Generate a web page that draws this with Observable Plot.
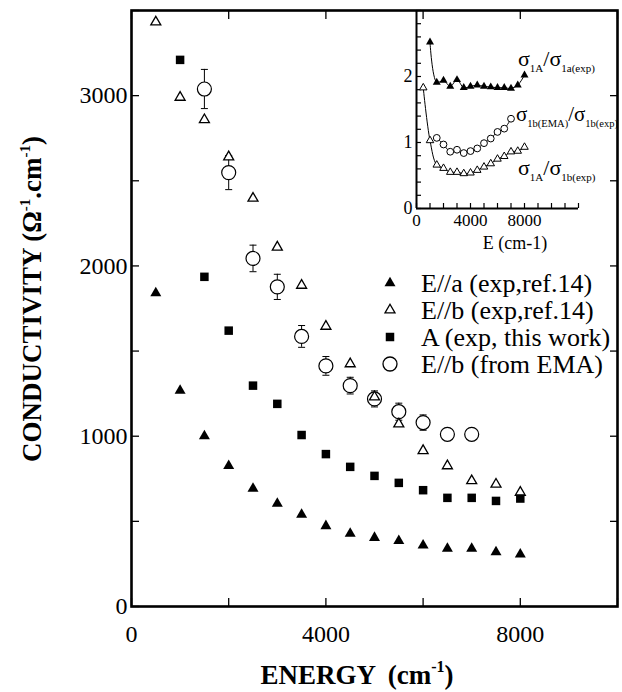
<!DOCTYPE html>
<html>
<head>
<meta charset="utf-8">
<script src="https://cdn.jsdelivr.net/npm/d3@7"></script>
<script src="https://cdn.jsdelivr.net/npm/@observablehq/plot@0.6"></script>
<style>
  body { margin: 0; background: #fff; }
  #wrap { position: relative; width: 622px; height: 692px; background: #fff; }
  #wrap > svg { position: absolute; }
</style>
</head>
<body>
<div id="wrap"></div>
<script>
// ---------- Main chart data ----------
const energyEa = [500, 1000, 1500, 2000, 2500, 3000, 3500, 4000, 4500, 5000, 5500, 6000, 6500, 7000, 7500, 8000];
const sigmaEa  = [1840, 1268, 1001, 826, 693, 605, 540, 473, 428, 404, 385, 359, 340, 340, 320, 306];

const energyEb = [500, 1000, 1500, 2000, 2500, 3000, 3500, 4000, 4500, 5000, 5500, 6000, 6500, 7000, 7500, 8000];
const sigmaEb  = [3432, 2990, 2858, 2640, 2397, 2110, 1886, 1645, 1425, 1230, 1072, 915, 826, 738, 718, 670];

const energyA = [1000, 1500, 2000, 2500, 3000, 3500, 4000, 4500, 5000, 5500, 6000, 6500, 7000, 7500, 8000];
const sigmaA  = [3210, 1936, 1620, 1297, 1190, 1007, 895, 820, 767, 726, 683, 638, 638, 620, 634];

const energyEMA = [1500, 2000, 2500, 3000, 3500, 4000, 4500, 5000, 5500, 6000, 6500, 7000];
const sigmaEMA  = [3039, 2548, 2044, 1877, 1586, 1413, 1297, 1219, 1144, 1080, 1011, 1011];
const errEMA    = [115, 100, 78, 74, 64, 55, 49, 47, 50, 45, 0, 0];

const legendLabels = ["E//a (exp,ref.14)", "E//b (exp,ref.14)", "A (exp, this work)", "E//b (from EMA)"];

const xTickLabels = [0, 4000, 8000];
const xTickMarks  = [0, 2000, 4000, 6000, 8000, 10000];
const yTickLabels = [0, 1000, 2000, 3000];
const yTickMarks  = [0, 500, 1000, 1500, 2000, 2500, 3000, 3500];

// ---------- Inset data ----------
const insetEnergyAa = [1000, 1500, 2000, 2500, 3000, 3500, 4000, 4500, 5000, 5500, 6000, 6500, 7000, 7500, 8000];
const ratioAa       = [2.52, 1.91, 1.94, 1.85, 1.95, 1.83, 1.85, 1.87, 1.85, 1.84, 1.83, 1.83, 1.82, 1.87, 2.02];

const insetEnergyEMA = [1500, 2000, 2500, 3000, 3500, 4000, 4500, 5000, 5500, 6000, 6500, 7000];
const ratioEMA       = [1.07, 0.97, 0.86, 0.89, 0.84, 0.87, 0.91, 0.99, 1.06, 1.16, 1.21, 1.36];

const insetEnergyAb = [500, 1000, 1500, 2000, 2500, 3000, 3500, 4000, 4500, 5000, 5500, 6000, 6500, 7000, 7500, 8000];
const ratioAb       = [1.83, 1.03, 0.66, 0.61, 0.55, 0.55, 0.53, 0.54, 0.58, 0.63, 0.68, 0.75, 0.79, 0.86, 0.87, 0.93];

const insetXTickLabels = [0, 4000, 8000];
const insetXTickMarks  = [0, 1000, 2000, 3000, 4000, 5000, 6000, 7000, 8000, 9000, 10000, 11000, 12000];
const insetYTickLabels = [0, 1, 2];
const insetYTickMarks  = d3.range(16).map(i => i / 5);

// ---------- helpers ----------
const zip = (xs, ys, extra) => xs.map((x, i) => ({x, y: ys[i], e: extra ? extra[i] : 0}));
const dEa = zip(energyEa, sigmaEa);
const dEb = zip(energyEb, sigmaEb);
const dA = zip(energyA, sigmaA);
const dEMA = zip(energyEMA, sigmaEMA, errEMA);
const dEMAerr = dEMA.filter(d => d.e > 0);

const iAa = zip(insetEnergyAa, ratioAa);
const iEMA = zip(insetEnergyEMA, ratioEMA);
const iAb = zip(insetEnergyAb, ratioAb);

const capSymbol = { draw(ctx) { ctx.moveTo(-3.5, 0); ctx.lineTo(3.5, 0); } };
const rTri = side => Math.sqrt((Math.sqrt(3) / 4) * side * side / Math.PI);
const rSq = side => Math.sqrt(side * side / Math.PI);

const FONT = "Liberation Serif, Times New Roman, serif";

// ---------- Main plot ----------
const main = Plot.plot({
  width: 622, height: 692,
  marginLeft: 131, marginRight: 5, marginTop: 10, marginBottom: 86,
  style: { fontFamily: FONT, fontSize: "24px", color: "#000", background: "transparent", overflow: "visible" },
  x: { domain: [0, 10000], label: null },
  y: { domain: [0, 3500], label: null },
  marks: [
    Plot.axisX({ anchor: "bottom", ticks: xTickMarks, tickSize: -8, tickPadding: 26,
      tickFormat: d => xTickLabels.includes(d) ? String(d) : "", fontSize: 24, strokeWidth: 1.3 }),
    Plot.axisX({ anchor: "top", ticks: xTickMarks, tickSize: -8, tickFormat: () => "", strokeWidth: 1.3 }),
    Plot.axisY({ anchor: "left", ticks: yTickMarks, tickSize: -8, tickPadding: 12,
      tickFormat: d => yTickLabels.includes(d) ? String(d) : "", fontSize: 24, strokeWidth: 1.3 }),
    Plot.axisY({ anchor: "right", ticks: yTickMarks, tickSize: -8, tickFormat: () => "", strokeWidth: 1.3 }),
    Plot.frame({ stroke: "black", strokeWidth: 2.6 }),
    Plot.ruleX(dEMAerr, { x: "x", y1: d => d.y - d.e, y2: d => d.y + d.e, stroke: "black", strokeWidth: 1 }),
    Plot.dot(dEMAerr, { x: "x", y: d => d.y + d.e, symbol: capSymbol, stroke: "black", strokeWidth: 1 }),
    Plot.dot(dEMAerr, { x: "x", y: d => d.y - d.e, symbol: capSymbol, stroke: "black", strokeWidth: 1 }),
    Plot.dot(dEMA, { x: "x", y: "y", symbol: "circle", r: 7, fill: "white", stroke: "black", strokeWidth: 1.2 }),
    Plot.dot(dEb, { x: "x", y: "y", symbol: "triangle", r: rTri(10), fill: "white", stroke: "black", strokeWidth: 1.3 }),
    Plot.dot(dA, { x: "x", y: "y", symbol: "square", r: rSq(8.5), fill: "black", stroke: "none" }),
    Plot.dot(dEa, { x: "x", y: "y", symbol: "triangle", r: rTri(11), fill: "black", stroke: "none" })
  ]
});
main.style.left = "0px";
main.style.top = "0px";
document.getElementById("wrap").appendChild(main);

const msvg = d3.select(main);
// Legend
const legendSymbols = [
  { type: d3.symbolTriangle, size: (Math.sqrt(3) / 4) * 11 * 11, fill: "black", stroke: "none" },
  { type: d3.symbolTriangle, size: (Math.sqrt(3) / 4) * 10 * 10, fill: "white", stroke: "black" },
  { type: d3.symbolSquare, size: 8.5 * 8.5, fill: "black", stroke: "none" },
  { type: d3.symbolCircle, size: Math.PI * 49, fill: "white", stroke: "black" }
];
const lg = msvg.append("g").attr("font-family", FONT).attr("font-size", 26)
  .attr("fill", "black").attr("text-anchor", "start");
legendLabels.forEach((label, i) => {
  const y = 283 + i * 27;
  const s = legendSymbols[i];
  lg.append("path")
    .attr("d", d3.symbol(s.type, s.size)())
    .attr("transform", `translate(390,${y})`)
    .attr("fill", s.fill).attr("stroke", s.stroke).attr("stroke-width", 1.3);
  lg.append("text").attr("x", 421).attr("y", y).attr("dy", "0.35em").text(label);
});

// Y axis title
const yt = msvg.append("text")
  .attr("transform", "translate(41,299) rotate(-90)")
  .attr("text-anchor", "middle")
  .attr("font-family", FONT).attr("font-weight", "bold").attr("font-size", 27).attr("fill", "black");
yt.append("tspan").text("CONDUCTIVITY (Ω");
yt.append("tspan").attr("font-size", 15).attr("dy", -11).text("-1");
yt.append("tspan").attr("dy", 11).text(".cm");
yt.append("tspan").attr("font-size", 15).attr("dy", -11).text("-1");
yt.append("tspan").attr("dy", 11).text(")");

// X axis title
const xt = msvg.append("text")
  .attr("x", 357).attr("y", 684)
  .attr("text-anchor", "middle")
  .attr("font-family", FONT).attr("font-weight", "bold").attr("font-size", 27).attr("fill", "black")
  .attr("word-spacing", 6);
xt.append("tspan").text("ENERGY (cm");
xt.append("tspan").attr("font-size", 16).attr("dy", -12).text("-1");
xt.append("tspan").attr("dy", 12).text(")");

// ---------- Inset ----------
const inset = Plot.plot({
  width: 242, height: 260,
  marginLeft: 36, marginRight: 44, marginTop: 10, marginBottom: 52,
  style: { fontFamily: FONT, fontSize: "17px", color: "#000", background: "transparent", overflow: "visible" },
  x: { domain: [0, 12000], label: null },
  y: { domain: [0, 3], label: null },
  marks: [
    Plot.axisX({ anchor: "bottom", ticks: insetXTickMarks, tickSize: -5, tickPadding: 10,
      tickFormat: d => insetXTickLabels.includes(d) ? String(d) : "", fontSize: 17, strokeWidth: 1.2 }),
    Plot.axisY({ anchor: "left", ticks: insetYTickMarks, tickSize: -5, tickPadding: 9,
      tickFormat: d => insetYTickLabels.includes(d) ? String(d) : "", fontSize: 18, strokeWidth: 1.2 }),
    Plot.ruleX([0], { stroke: "black", strokeWidth: 2 }),
    Plot.ruleY([0], { stroke: "black", strokeWidth: 2 }),
    Plot.line(iAa, { x: "x", y: "y", curve: "catmull-rom", stroke: "black", strokeWidth: 1 }),
    Plot.line(iEMA, { x: "x", y: "y", curve: "catmull-rom", stroke: "black", strokeWidth: 1 }),
    Plot.line(iAb, { x: "x", y: "y", curve: "catmull-rom", stroke: "black", strokeWidth: 1 }),
    Plot.dot(iAa, { x: "x", y: "y", symbol: "triangle", r: rTri(8), fill: "black", stroke: "none" }),
    Plot.dot(iEMA, { x: "x", y: "y", symbol: "circle", r: 3.4, fill: "white", stroke: "black", strokeWidth: 1 }),
    Plot.dot(iAb, { x: "x", y: "y", symbol: "triangle", r: rTri(7.5), fill: "white", stroke: "black", strokeWidth: 1 })
  ]
});
inset.style.left = "380px";
inset.style.top = "0px";
document.getElementById("wrap").appendChild(inset);

const isvg = d3.select(inset);
isvg.append("text")
  .attr("x", 515 - 380).attr("y", 249)
  .attr("text-anchor", "middle")
  .attr("font-family", FONT).attr("font-size", 18).attr("fill", "black")
  .text("E (cm-1)");

const insetLabels = [
  { a: "1A", b: "1a(exp)", x: 138, y: 66, big: 22, small: 11 },
  { a: "1b(EMA)", b: "1b(exp)", x: 136, y: 121, big: 21, small: 10.5 },
  { a: "1A", b: "1b(exp)", x: 138, y: 175, big: 22, small: 11 }
];
insetLabels.forEach(l => {
  const t = isvg.append("text")
    .attr("x", l.x).attr("y", l.y).attr("text-anchor", "start")
    .attr("font-family", FONT).attr("font-size", l.big).attr("fill", "black");
  t.append("tspan").text("σ");
  t.append("tspan").attr("font-size", l.small).attr("dy", 6).text(l.a);
  t.append("tspan").attr("dy", -6).text("/σ");
  t.append("tspan").attr("font-size", l.small).attr("dy", 6).text(l.b);
});
</script>
</body>
</html>
